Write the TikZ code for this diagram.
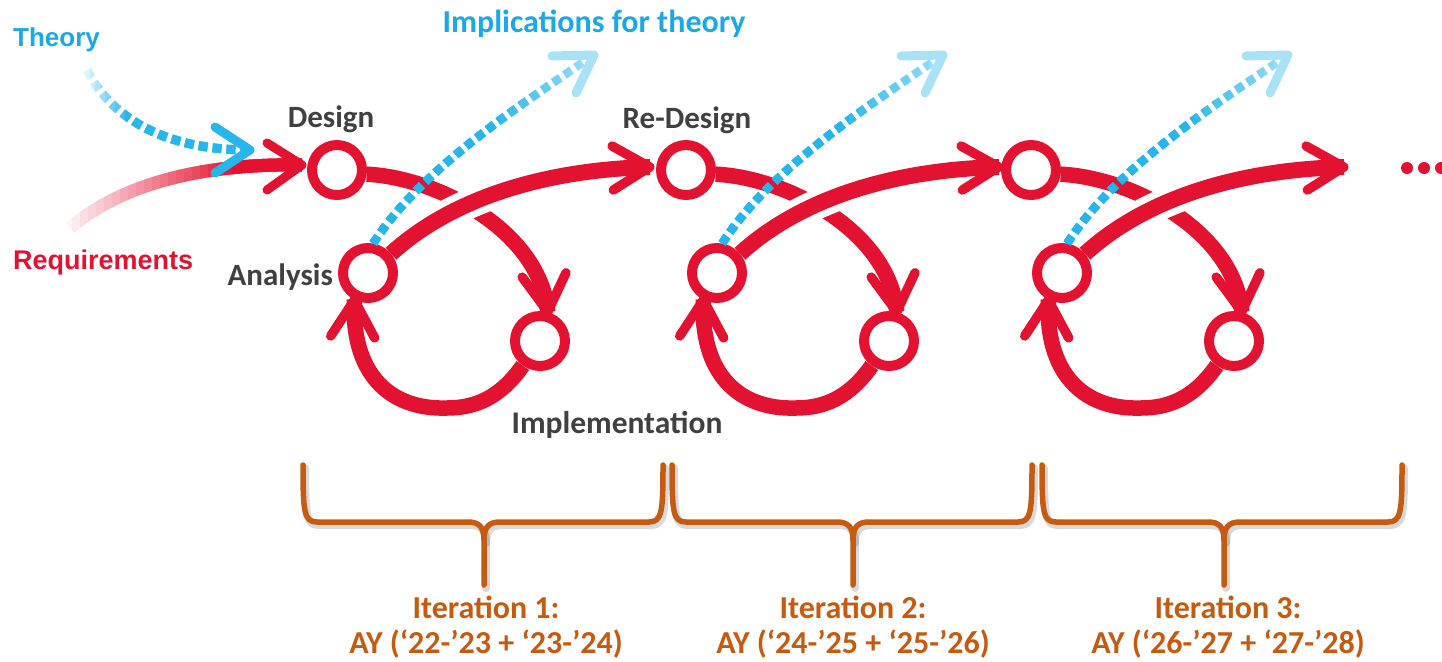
\documentclass[tikz,border=0pt]{standalone}
\usepackage{fontspec}
\setmainfont{Carlito}
\newfontfamily\helvb{Liberation Sans}
\usetikzlibrary{decorations.markings}

\definecolor{loopred}{RGB}{227,18,48}
\definecolor{dashblue}{RGB}{38,182,235}
\definecolor{textblue}{RGB}{28,168,228}
\definecolor{labelgray}{RGB}{64,64,64}
\definecolor{bracebrown}{RGB}{197,90,17}

\pgfdeclarelayer{front}
\pgfsetlayers{main,front}

\tikzset{
  ring/.style={circle, draw=loopred, fill=white, line width=10pt, minimum size=50pt, inner sep=0pt},
  redarc/.style={draw=loopred, line width=15.5pt},
  barb/.style={postaction={decorate}, decoration={markings, mark=at position 0.999 with
      {\draw[loopred, line width=9.5pt, line cap=round, line join=round] (-37pt,22pt) -- (0pt,0pt) -- (-37pt,-22pt);}}},
  chev/.style={line width=9pt, line cap=round, line join=round},
  implication/.style={draw=dashblue, line width=8.5pt, dash pattern=on 8.5pt off 5pt},
  steplabel/.style={font=\fontsize{31}{31}\selectfont\bfseries, text=labelgray, inner sep=0pt},
  iterlabel/.style={font=\fontsize{32}{35}\selectfont\bfseries, text=bracebrown, inner sep=0pt, anchor=base},
  bracestroke/.style={draw=bracebrown, line width=5.5pt, line cap=round, line join=round},
  braceshadow/.style={draw=black, opacity=0.15, line width=8pt, line cap=round, line join=round},
}

% opacity of stacked layer #1 when the total opacity steps from #2 to #3
\newcommand\layeralpha[3]{\pgfmathsetmacro\lalpha{((#3)-(#2))/(1-(#2))}}

\begin{document}
\begin{tikzpicture}[x=1pt,y=-1pt]
\useasboundingbox (0,0) rectangle (1442,661);
\clip (0,0) rectangle (1442,661);

% the three design / analysis / implementation rings
\begin{pgfonlayer}{front}
\foreach \i/\dx in {1/0,2/349,3/694}{
  \begin{scope}[xshift=\dx pt]
    \node[ring] (d\i) at (337,170) {};
    \node[ring] (a\i) at (368,273) {};
    \node[ring] (m\i) at (540,341) {};
  \end{scope}
}
\end{pgfonlayer}

\foreach \i/\dx in {1/0,2/349,3/694}{
  \begin{scope}[xshift=\dx pt]
    \coordinate (t\i) at (650,167);
    \coordinate (u\i) at (594,55);
  \end{scope}
}

% red cycle arcs
\foreach \i/\dx in {1/0,2/349,3/694}{
  \begin{scope}[xshift=\dx pt]
    % design -> implementation
    \draw[redarc, barb] (d\i.-8) .. controls (440,178) and (540,232) .. (m\i.75);
    % implementation -> analysis
    \draw[redarc, barb] (m\i.235) .. controls (500,398) and (475,408) .. (447,408)
                                  .. controls (388,410) and (351,372) .. (a\i.243);
    % analysis -> next design, with a white gap under it
    \draw[white, line width=30pt] (a\i.40) .. controls (450,200) and (540,170) .. (t\i);
    \draw[redarc, line width=16pt, barb] (a\i.40) .. controls (450,200) and (540,170) .. (t\i);
  \end{scope}
}

% implications for theory: dashed arrows that fade out towards the tip,
% built from stacked layers clipped at decreasing right edges
\begin{pgfonlayer}{front}
\foreach \i/\dx in {1/0,2/349,3/694}{
  \begin{scope}[xshift=\dx pt]
    \foreach \k in {1,...,12}{
      \pgfmathsetmacro\Tnow{0.35+0.65*(\k-1)/11}
      \pgfmathsetmacro\Tbefore{ifthenelse(\k==1,0,0.35+0.65*(\k-2)/11)}
      \layeralpha{\k}{\Tbefore}{\Tnow}
      \pgfmathsetmacro\xr{ifthenelse(\k==1,700,610-10*(\k-1))}
      \begin{scope}
        \clip (300,0) rectangle (\xr,300);
        \draw[implication, opacity=\lalpha] (a\i.80) .. controls (420,170) and (520,105) .. (u\i);
      \end{scope}
    }
    \draw[chev, dashblue!40] (552,56) -- (u\i) -- (576,93);
  \end{scope}
}
\end{pgfonlayer}

% inputs: requirements and theory
\node[font=\helvb\bfseries\fontsize{27}{27}\selectfont, text=loopred, anchor=base west, inner sep=0pt] (req) at (13,269) {Requirements};
\node[font=\helvb\bfseries\fontsize{26}{26}\selectfont, text=textblue, anchor=base west, inner sep=0pt] (theory) at (13,47) {Theory};
\coordinate (rqstart) at (70,228);
\coordinate (rqtip) at (302,165);
\coordinate (thstart) at (87,70);
\coordinate (thtip) at (250,150);

% requirements arrow fading in from the left
\foreach \k in {1,...,22}{
  \pgfmathsetmacro\Tnow{\k/22}
  \pgfmathsetmacro\Tbefore{(\k-1)/22}
  \layeralpha{\k}{\Tbefore}{\Tnow}
  \pgfmathsetmacro\xl{ifthenelse(\k==1,40,64+8*(\k-1))}
  \begin{scope}
    \clip (\xl,100) rectangle (320,260);
    \draw[loopred, line width=13pt, opacity=\lalpha] (rqstart) .. controls (120,185) and (200,163) .. (rqtip);
  \end{scope}
}
\draw[chev, loopred] (267,143) -- (rqtip) -- (267,190);

% theory arrow fading in from the left
\foreach \k in {1,...,9}{
  \pgfmathsetmacro\Tnow{0.15+0.85*(\k-1)/8}
  \pgfmathsetmacro\Tbefore{ifthenelse(\k==1,0,0.15+0.85*(\k-2)/8)}
  \layeralpha{\k}{\Tbefore}{\Tnow}
  \pgfmathsetmacro\xl{ifthenelse(\k==1,60,85+5*(\k-1))}
  \begin{scope}
    \clip (\xl,55) rectangle (270,200);
    \draw[dashblue, line width=9pt, dash pattern=on 9pt off 5pt, opacity=\lalpha]
      (thstart) .. controls (110,115) and (160,150) .. (thtip);
  \end{scope}
}
\draw[chev, dashblue] (215,127) -- (thtip) -- (215,173);

% step labels
\node[steplabel, anchor=base] (lbldesign) at (331,127) {Design};
\node[steplabel, anchor=base] (lblredesign) at (687,128) {Re-Design};
\node[steplabel, anchor=base east] (lblanalysis) at (333,285) {Analysis};
\node[steplabel, anchor=base, font=\fontsize{31.5}{31.5}\selectfont\bfseries] (lblimpl) at (617,433) {Implementation};
\node[font=\fontsize{32}{32}\selectfont\bfseries, text=textblue, anchor=base, inner sep=0pt] (lbltheory) at (594,33) {Implications for theory};

% continuation dots
\fill[loopred] (1407,168) circle (6pt) (1424,168) circle (6pt) (1441,168) circle (6pt);

% iteration braces
\foreach \xl/\xm/\xr in {303/484/663, 672/853/1032, 1042/1224/1402}{
  \foreach \st/\sx/\sy in {braceshadow/2/3, bracestroke/0/0}{
    \begin{scope}[xshift=\sx pt, yshift=-\sy pt]
      \draw[\st] (\xl,465) .. controls (\xl,512) and (\xl+1,522) .. (\xl+14,522) -- (\xm-16,522)
            .. controls (\xm-5,522) and (\xm,527) .. (\xm,540) -- (\xm,585);
      \draw[\st] (\xr,465) .. controls (\xr,512) and (\xr-1,522) .. (\xr-14,522) -- (\xm+16,522)
            .. controls (\xm+5,522) and (\xm,527) .. (\xm,540);
    \end{scope}
  }
}

% iteration labels
\node[iterlabel] (it1a) at (486,618) {Iteration 1:};
\node[iterlabel] (it1b) at (486,653) {AY (‘22-’23 + ‘23-’24)};
\node[iterlabel] (it2a) at (853,618) {Iteration 2:};
\node[iterlabel] (it2b) at (853,653) {AY (‘24-’25 + ‘25-’26)};
\node[iterlabel] (it3a) at (1228,618) {Iteration 3:};
\node[iterlabel] (it3b) at (1228,653) {AY (‘26-’27 + ‘27-’28)};
\end{tikzpicture}
\end{document}
